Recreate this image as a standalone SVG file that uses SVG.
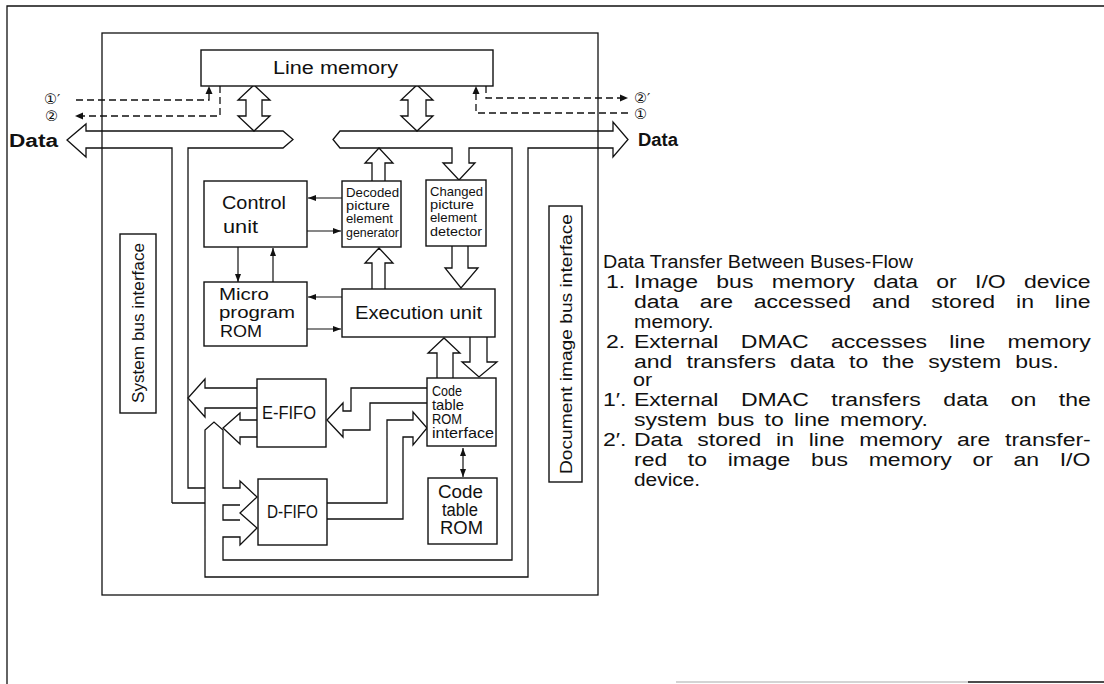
<svg xmlns="http://www.w3.org/2000/svg" width="1104" height="684" viewBox="0 0 1104 684">
<defs>
<marker id="ah" viewBox="0 0 8 6" refX="8" refY="3" markerWidth="8" markerHeight="6" markerUnits="userSpaceOnUse" orient="auto-start-reverse"><path d="M0,0 L8,3 L0,6 z" fill="#111"/></marker>
</defs>
<style>
.ln{fill:none;stroke:#111;stroke-width:1.3}
.box{fill:#fff;stroke:#111;stroke-width:1.4}
.bus{fill:none;stroke:#111;stroke-width:1.3;stroke-linejoin:miter}
.hb{fill:#fff;stroke:#111;stroke-width:1.3}
.t{font-family:"Liberation Sans",Arial,sans-serif;fill:#111}
.c{font-family:"DejaVu Sans","Noto Sans",sans-serif;fill:#111}
.dash{fill:none;stroke:#111;stroke-width:1.3;stroke-dasharray:7 4}
.ar{fill:none;stroke:#111;stroke-width:1.2;marker-end:url(#ah)}
.ar2{fill:none;stroke:#111;stroke-width:1.2;marker-end:url(#ah);marker-start:url(#ah)}
</style>
<rect width="1104" height="684" fill="#fff"/>
<g id="page-frame">
<path class="ln" d="M7,684 L7,6 L1104,6"/>
<path fill="none" stroke="#aaa" stroke-width="1.2" d="M676,682 L968,682"/>
<path fill="none" stroke="#111" stroke-width="1.6" d="M968,682 L1104,682"/>
</g>
<g id="chip-frame"><rect class="ln" x="102" y="33" width="496" height="562"/></g>

<g id="connectors">
<path class="bus" d="M172,503 L172,148 L86,148 L86,157 L67,140 L86,124 L86,131 L283,131 L293,139.5 L283,148 L188,148 L188,488 L205,488"/>
<path class="bus" d="M172,503 L205,503"/>
<path class="bus" d="M459,180 L443,163 L452,163 L452,148 L340,148 L333,139.5 L340,131 L613,131 L613,122 L628,139.5 L613,157 L613,148 L528,148 L528,577 L205,577 L205,430 L214,422 L223,430 L223,488 L240,488 L240,481 L257,497 L240,513 L257,528 L240,545 L240,537 L223,537 L223,560 L512,560 L512,148 L469,148 L469,163 L475,163 Z"/>
<path class="bus" d="M240,505 L223,505 L223,520 L240,520"/>
<path class="hb" d="M254,85 L270,100 L262,100 L262,116 L270,116 L254,131 L238,116 L246,116 L246,100 L238,100 Z"/>
<path class="hb" d="M417,85 L433,100 L426,100 L426,116 L433,116 L417,131 L401,116 L408,116 L408,100 L401,100 Z"/>
<path class="hb" d="M372,181 L372,163 L365,163 L379,148 L393,163 L385,163 L385,181"/>
<path class="hb" d="M372,289 L372,263 L365,263 L379,248 L393,263 L385,263 L385,289"/>
<path class="hb" d="M452,246 L452,268 L445,268 L461,288 L478,268 L468,268 L468,246"/>
<path class="hb" d="M437,378 L437,353 L428,353 L444,338 L460,353 L453,353 L453,378"/>
<path class="hb" d="M470,337 L470,362 L462,362 L479,377 L497,362 L487,362 L487,337"/>
<path class="hb" d="M257,388 L205,388 L205,379 L188,398 L205,417 L205,408 L257,408"/>
<path class="hb" d="M257,420 L240,420 L240,413 L223,428 L240,444 L240,437 L257,437"/>
<path class="bus" d="M427,388 L351,388 L351,411 L343,411 L343,403 L327,420 L343,437 L343,430 L370,430 L370,403 L427,403"/>
<path class="bus" d="M327,503 L387,503 L387,420 L413,420 L413,412 L427,428 L413,445 L413,437 L403,437 L403,519 L327,519"/>
<line class="ar" x1="342" y1="198" x2="308" y2="198"/>
<line class="ar" x1="307" y1="231" x2="341" y2="231"/>
<line class="ar" x1="238" y1="247" x2="238" y2="282"/>
<line class="ar" x1="273" y1="283" x2="273" y2="248"/>
<line class="ar" x1="342" y1="297" x2="308" y2="297"/>
<line class="ar" x1="307" y1="329" x2="341" y2="329"/>
<line class="ar2" x1="463" y1="448" x2="463" y2="477"/>
<path class="dash" d="M76,100 L209,100 L209,92"/>
<path d="M209,86 L212.5,94 L205.5,94 z" fill="#111"/>
<path class="dash" d="M220,86 L220,116 L82,116"/>
<path d="M75,116 L83,112.5 L83,119.5 z" fill="#111"/>
<path class="dash" d="M486,86 L486,98 L621,98"/>
<path d="M628,98 L620,94.5 L620,101.5 z" fill="#111"/>
<path class="dash" d="M628,113 L476,113 L476,92"/>
<path d="M476,86 L479.5,94 L472.5,94 z" fill="#111"/>
</g>

<g id="line-memory">
<rect class="box" x="201" y="50" width="292" height="36"/>
<text class="t" x="273" y="74" font-size="18" textLength="125" lengthAdjust="spacingAndGlyphs">Line memory</text>
</g>
<g id="labels-left">
<text class="c" x="44" y="104" font-size="14.5">①′</text>
<text class="c" x="45" y="121" font-size="14.5">②</text>
<text class="t" x="9" y="147" font-size="18" font-weight="bold" textLength="49" lengthAdjust="spacingAndGlyphs">Data</text>
</g>
<g id="labels-right">
<text class="c" x="634" y="102.5" font-size="14.5">②′</text>
<text class="c" x="634" y="119" font-size="14.5">①</text>
<text class="t" x="638" y="146" font-size="18" font-weight="bold" textLength="40" lengthAdjust="spacingAndGlyphs">Data</text>
</g>
<g id="system-bus-interface">
<rect class="box" x="120" y="234" width="36" height="179"/>
<text class="t" font-size="17" text-anchor="middle" transform="translate(138,323) rotate(-90)" y="6" textLength="160" lengthAdjust="spacingAndGlyphs">System bus interface</text>
</g>
<g id="document-image-bus-interface">
<rect class="box" x="549" y="206" width="33" height="276"/>
<text class="t" font-size="17" text-anchor="middle" transform="translate(565.5,344) rotate(-90)" y="6" textLength="260" lengthAdjust="spacingAndGlyphs">Document image bus interface</text>
</g>
<g id="control-unit">
<rect class="box" x="204" y="181" width="103" height="66"/>
<text class="t" x="222" y="209" font-size="18" textLength="64" lengthAdjust="spacingAndGlyphs">Control</text>
<text class="t" x="223" y="233" font-size="18" textLength="35" lengthAdjust="spacingAndGlyphs">unit</text>
</g>
<g id="decoded-generator">
<rect class="box" x="342" y="181" width="59" height="66"/>
<text class="t" x="346" y="197" font-size="13.5" textLength="53" lengthAdjust="spacingAndGlyphs">Decoded</text>
<text class="t" x="346" y="210" font-size="13.5" textLength="44" lengthAdjust="spacingAndGlyphs">picture</text>
<text class="t" x="346" y="223" font-size="13.5" textLength="47" lengthAdjust="spacingAndGlyphs">element</text>
<text class="t" x="346" y="237" font-size="13.5" textLength="53" lengthAdjust="spacingAndGlyphs">generator</text>
</g>
<g id="changed-detector">
<rect class="box" x="426" y="180" width="60" height="66"/>
<text class="t" x="430" y="196" font-size="13.5" textLength="53" lengthAdjust="spacingAndGlyphs">Changed</text>
<text class="t" x="430" y="209" font-size="13.5" textLength="44" lengthAdjust="spacingAndGlyphs">picture</text>
<text class="t" x="430" y="222" font-size="13.5" textLength="47" lengthAdjust="spacingAndGlyphs">element</text>
<text class="t" x="430" y="236" font-size="13.5" textLength="52" lengthAdjust="spacingAndGlyphs">detector</text>
</g>
<g id="micro-program-rom">
<rect class="box" x="204" y="282" width="103" height="64"/>
<text class="t" x="219" y="300" font-size="16" textLength="50" lengthAdjust="spacingAndGlyphs">Micro</text>
<text class="t" x="219" y="318" font-size="16" textLength="76" lengthAdjust="spacingAndGlyphs">program</text>
<text class="t" x="220" y="337" font-size="16" textLength="42" lengthAdjust="spacingAndGlyphs">ROM</text>
</g>
<g id="execution-unit">
<rect class="box" x="342" y="289" width="153" height="48"/>
<text class="t" x="355" y="319" font-size="18" textLength="127" lengthAdjust="spacingAndGlyphs">Execution unit</text>
</g>
<g id="e-fifo">
<rect class="box" x="257" y="379" width="69" height="68"/>
<text class="t" x="262" y="419" font-size="18" textLength="54" lengthAdjust="spacingAndGlyphs">E-FIFO</text>
</g>
<g id="code-table-rom-interface">
<rect class="box" x="427" y="378" width="69" height="68"/>
<text class="t" x="432" y="396" font-size="14.5" textLength="30" lengthAdjust="spacingAndGlyphs">Code</text>
<text class="t" x="432" y="410" font-size="14.5" textLength="32" lengthAdjust="spacingAndGlyphs">table</text>
<text class="t" x="432" y="424" font-size="14.5" textLength="30" lengthAdjust="spacingAndGlyphs">ROM</text>
<text class="t" x="432" y="438" font-size="14.5" textLength="62" lengthAdjust="spacingAndGlyphs">interface</text>
</g>
<g id="d-fifo">
<rect class="box" x="258" y="479" width="69" height="66"/>
<text class="t" x="267" y="518" font-size="18" textLength="51" lengthAdjust="spacingAndGlyphs">D-FIFO</text>
</g>
<g id="code-table-rom">
<rect class="box" x="428" y="478" width="69" height="66"/>
<text class="t" x="438" y="498" font-size="18" textLength="45" lengthAdjust="spacingAndGlyphs">Code</text>
<text class="t" x="442" y="516" font-size="18" textLength="36" lengthAdjust="spacingAndGlyphs">table</text>
<text class="t" x="440" y="534" font-size="18" textLength="43" lengthAdjust="spacingAndGlyphs">ROM</text>
</g>

<g id="notes" class="t" font-size="18">
<text x="603" y="268" textLength="310" lengthAdjust="spacingAndGlyphs">Data Transfer Between Buses-Flow</text>
<text transform="translate(606,288) scale(1.28,1)">1.</text>
<text transform="translate(634,288) scale(1.28,1)" word-spacing="9.3">Image bus memory data or I/O device</text>
<text transform="translate(634,308) scale(1.28,1)" word-spacing="11.3">data are accessed and stored in line</text>
<text transform="translate(634,328) scale(1.16,1)">memory.</text>
<text transform="translate(606,348) scale(1.28,1)">2.</text>
<text transform="translate(634,348) scale(1.28,1)" word-spacing="12.5">External DMAC accesses line memory</text>
<text transform="translate(634,368) scale(1.28,1)" word-spacing="6">and transfers data to the system bus.</text>
<text transform="translate(633,386) scale(1.2,1)">or</text>
<text transform="translate(603,406) scale(1.28,1)">1′.</text>
<text transform="translate(634,406) scale(1.28,1)" word-spacing="12.6">External DMAC transfers data on the</text>
<text transform="translate(634,426) scale(1.28,1)" word-spacing="3">system bus to line memory.</text>
<text transform="translate(603,446) scale(1.28,1)">2′.</text>
<text transform="translate(634,446) scale(1.28,1)" word-spacing="6.5">Data stored in line memory are transfer-</text>
<text transform="translate(634,466) scale(1.28,1)" word-spacing="11.1">red to image bus memory or an I/O</text>
<text transform="translate(634,486) scale(1.16,1)">device.</text>
</g>
</svg>
